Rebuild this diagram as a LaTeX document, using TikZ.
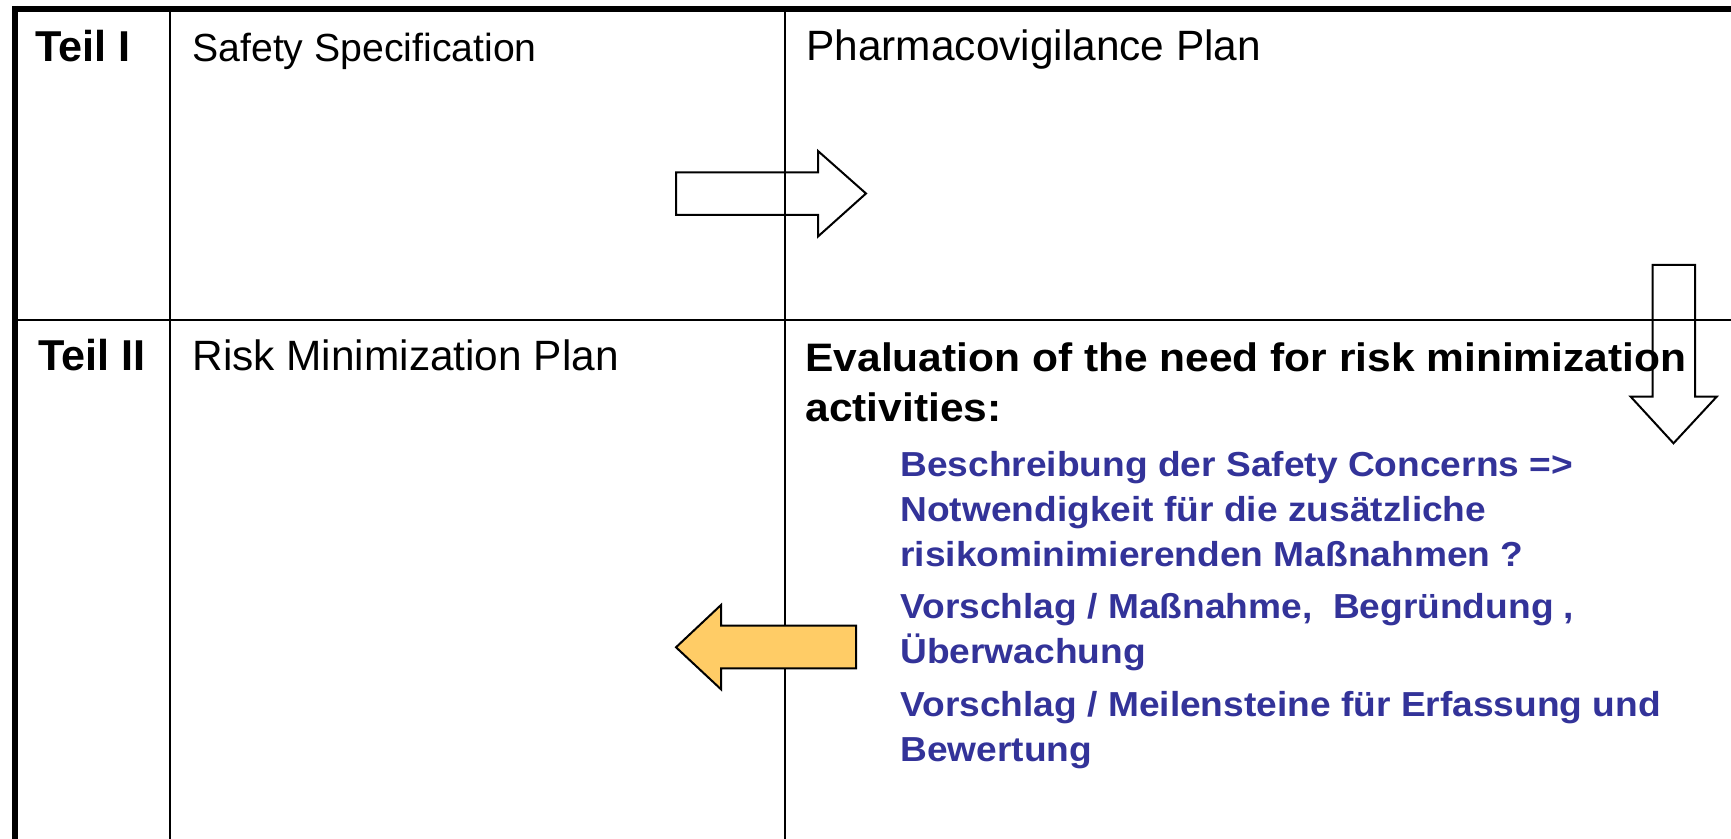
\documentclass[tikz,border=0pt]{standalone}
\usepackage{fontspec}
\setmainfont{Liberation Sans}
\newfontfamily\widefont[FakeStretch=1.07]{Liberation Sans}
\definecolor{pvblue}{HTML}{333399}
\definecolor{pvorange}{HTML}{FFCC66}
\tikzset{
  lbl/.style={anchor=base west, inner sep=0pt, font=\fontsize{21.2}{24}\selectfont},
  evl/.style={anchor=base west, inner sep=0pt, font=\widefont\bfseries\fontsize{19.86}{23}\selectfont},
  bluetxt/.style={anchor=base west, inner sep=0pt, text=pvblue, font=\widefont\bfseries\fontsize{17.35}{20}\selectfont},
  frame/.style={line width=3pt},
  grid/.style={line width=1pt},
  blockarrow/.style={line width=1pt, line join=miter},
}
\begin{document}
\begin{tikzpicture}[x=0.5pt, y=-0.5pt]
\useasboundingbox (0,0) rectangle (1731,839);
\begin{scope}
\clip (0,0) rectangle (1731,839);
% table lines
\draw[grid] (170,9) -- (170,860);
\draw[grid] (785,9) -- (785,860);
\draw[grid] (15,320) -- (1760,320);
\draw[frame] (12,9) -- (1760,9);
\draw[frame] (15,6) -- (15,860);
\end{scope}
% texts
\node[lbl, font=\bfseries\fontsize{21.6}{24}\selectfont] (t1) at (35,62) {Teil I};
\node[lbl, font=\bfseries\fontsize{21.6}{24}\selectfont] (t2) at (38,371) {Teil II};
\node[lbl, font=\fontsize{19.6}{23}\selectfont] (ss) at (192,62) {Safety Specification};
\node[lbl] (pp) at (806,61) {Pharmacovigilance Plan};
\node[lbl] (rm) at (192,371) {Risk Minimization Plan};
\node[evl] (ev1) at (805,372) {Evaluation of the need for risk minimization};
\node[evl] (ev2) at (805,422) {activities:};
\node[bluetxt] (b1) at (900,477) {Beschreibung der Safety Concerns =>};
\node[bluetxt] (b2) at (900,522) {Notwendigkeit für die zusätzliche};
\node[bluetxt] (b3) at (900,566.5) {risikominimierenden Maßnahmen ?};
\node[bluetxt] (b4) at (900,618.5) {Vorschlag / Maßnahme,\ \ Begründung ,};
\node[bluetxt] (b5) at (900,663.5) {Überwachung};
\node[bluetxt] (b6) at (900,716) {Vorschlag / Meilensteine für Erfassung und};
\node[bluetxt] (b7) at (900,761.7) {Bewertung};
% block arrows
\draw[blockarrow] (676,172.3) -- (818,172.3) -- (818,151) -- (866,193.5) -- (818,236.5) -- (818,215) -- (676,215) -- cycle;
\draw[blockarrow] (1652.7,265) -- (1695,265) -- (1695,396.7) -- (1716.7,396.7) -- (1673.5,443.3) -- (1630.7,396.7) -- (1652.7,396.7) -- cycle;
\draw[blockarrow, fill=pvorange] (676,647.3) -- (721,605) -- (721,625.7) -- (856,625.7) -- (856,668.3) -- (721,668.3) -- (721,689.3) -- cycle;
\end{tikzpicture}
\end{document}
